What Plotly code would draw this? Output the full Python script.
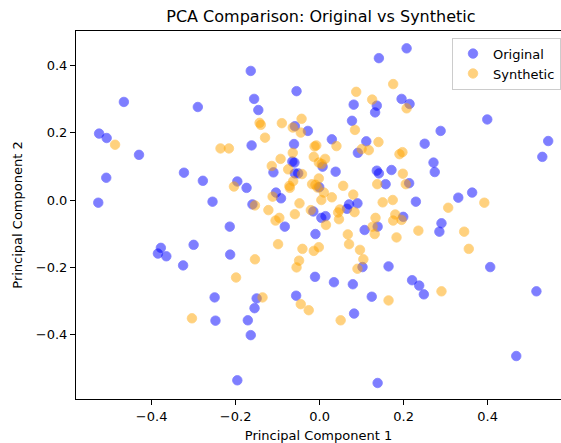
import plotly.graph_objects as go

orig_x = [0.141, 0.207, -0.164, -0.466, -0.290, -0.055, -0.156, -0.146, 0.081, 0.136,
          0.132, 0.195, 0.214, 0.399, 0.077, -0.059, -0.028, -0.525, -0.507, 0.288,
          0.250, 0.544, -0.162, -0.061, 0.029, 0.111, -0.430, 0.091, -0.065, -0.060,
          0.007, -0.110, -0.059, -0.051, 0.038, 0.136, 0.141, 0.171, 0.530, 0.271,
          0.274, -0.508, -0.323, -0.278, -0.196, -0.174, -0.001, 0.157, 0.213, -0.104,
          -0.092, -0.527, -0.255, -0.160, 0.070, 0.090, 0.065, -0.015, 0.004, 0.014,
          0.229, 0.330, 0.363, 0.199, 0.290, 0.285, -0.214, -0.083, 0.138, 0.107,
          -0.010, -0.300, -0.378, -0.385, -0.365, -0.213, -0.325, 0.102, 0.164, 0.406,
          -0.011, 0.034, 0.079, 0.220, 0.237, 0.248, 0.516, -0.250, -0.248, -0.150,
          -0.155, -0.056, 0.124, 0.082, -0.171, -0.164, -0.196, 0.138, 0.468]
orig_y = [0.421, 0.450, 0.383, 0.291, 0.276, 0.323, 0.300, 0.267, 0.283, 0.280,
          0.260, 0.300, 0.285, 0.239, 0.235, 0.219, 0.205, 0.197, 0.184, 0.205,
          0.167, 0.175, 0.162, 0.166, 0.180, 0.174, 0.134, 0.140, 0.114, 0.111,
          0.099, 0.082, 0.079, 0.079, 0.084, 0.087, 0.079, 0.089, 0.128, 0.111,
          0.083, 0.066, 0.081, 0.057, 0.055, 0.036, 0.038, 0.047, 0.050, 0.022,
          0.005, -0.008, -0.005, -0.013, -0.013, -0.010, -0.026, -0.034, -0.053, -0.048,
          -0.005, 0.007, 0.022, -0.050, -0.069, -0.094, -0.079, -0.079, -0.079, -0.089,
          -0.101, -0.133, -0.142, -0.159, -0.167, -0.162, -0.194, -0.199, -0.197, -0.199,
          -0.228, -0.244, -0.250, -0.238, -0.254, -0.280, -0.271, -0.289, -0.358, -0.292,
          -0.321, -0.284, -0.287, -0.337, -0.357, -0.401, -0.535, -0.543, -0.463]

syn_x = [0.175, 0.087, 0.125, 0.207, -0.043, -0.143, -0.140, -0.090, -0.064, -0.045,
         0.084, -0.130, 0.040, -0.012, -0.008, 0.140, -0.487, -0.236, -0.216, 0.190,
         0.197, -0.064, -0.093, -0.014, 0.013, -0.002, 0.005, 0.100, 0.117, -0.114,
         -0.075, -0.042, -0.002, -0.063, -0.072, -0.071, -0.018, -0.010, -0.005, 0.010,
         0.004, 0.029, 0.056, 0.080, 0.048, 0.044, 0.046, 0.083, 0.137, 0.150,
         0.174, 0.198, 0.205, 0.180, 0.175, 0.195, 0.133, 0.126, 0.131, 0.183,
         -0.204, -0.154, -0.122, -0.112, -0.048, -0.059, -0.021, -0.096, -0.105, 0.015,
         0.067, 0.070, -0.099, -0.041, -0.014, -0.002, 0.096, 0.104, -0.154, -0.049,
         -0.055, 0.090, -0.199, -0.136, -0.045, -0.026, 0.164, 0.050, -0.304, 0.290,
         0.306, 0.392, 0.235, 0.344, 0.355]
syn_y = [0.344, 0.321, 0.298, 0.272, 0.241, 0.229, 0.223, 0.228, 0.215, 0.200,
         0.208, 0.185, 0.160, 0.159, 0.162, 0.172, 0.164, 0.153, 0.153, 0.136,
         0.142, 0.140, 0.122, 0.128, 0.122, 0.111, 0.107, 0.151, 0.148, 0.101,
         0.091, 0.077, 0.064, 0.056, 0.042, 0.036, 0.047, 0.045, 0.037, 0.022,
         0.000, 0.008, 0.042, 0.016, -0.028, -0.037, -0.057, -0.036, 0.047, -0.007,
         0.000, 0.078, 0.047, -0.043, -0.061, -0.059, -0.053, -0.079, -0.101, -0.111,
         0.040, -0.016, -0.030, 0.010, -0.010, -0.042, -0.030, -0.053, -0.061, -0.074,
         -0.102, -0.131, -0.131, -0.145, -0.151, -0.140, -0.148, -0.176, -0.176, -0.180,
         -0.200, -0.204, -0.230, -0.289, -0.309, -0.327, -0.298, -0.357, -0.351, -0.271,
         -0.023, -0.008, -0.091, -0.094, -0.145]

tick_vals = [-0.4, -0.2, 0.0, 0.2, 0.4]

FONT = "DejaVu Sans"

fig = go.Figure()
fig.add_trace(go.Scatter(
    x=orig_x, y=orig_y, mode="markers", name="Original",
    marker=dict(color="blue", size=9.5, opacity=0.5,
                line=dict(width=0.8, color="blue")),
))
fig.add_trace(go.Scatter(
    x=syn_x, y=syn_y, mode="markers", name="Synthetic",
    marker=dict(color="orange", size=9.5, opacity=0.5,
                line=dict(width=0.8, color="orange")),
))

axis_common = dict(
    showgrid=False, zeroline=False, showline=True, linecolor="black", linewidth=1,
    ticks="outside", ticklen=5, tickwidth=1, tickcolor="black",
    tickfont=dict(family=FONT, size=13, color="black"),
    tickvals=tick_vals, tickformat=".1f",
)

fig.update_layout(
    width=561, height=443,
    margin=dict(l=76, r=0, t=31, b=44),
    paper_bgcolor="white", plot_bgcolor="white",
    font=dict(family=FONT, size=13, color="black"),
    title=dict(text="PCA Comparison: Original vs Synthetic", x=0.572, xanchor="center",
               y=1 - 16 / 443, yanchor="middle",
               font=dict(family=FONT, size=16, color="black")),
    xaxis=dict(axis_common, range=[-0.580, 0.5745], mirror=True,
               title=dict(text="Principal Component 1", standoff=8,
                          font=dict(family=FONT, size=13, color="black"))),
    yaxis=dict(axis_common, range=[-0.5905, 0.5015], mirror=False,
               title=dict(text="Principal Component 2", standoff=10,
                          font=dict(family=FONT, size=13, color="black"))),
    showlegend=True,
    legend=dict(x=1, xanchor="right", y=0.982, yanchor="top",
                bgcolor="rgba(255,255,255,0.8)", bordercolor="#cccccc", borderwidth=1,
                font=dict(family=FONT, size=13, color="black"),
                itemsizing="trace", tracegroupgap=0),
)

fig.write_html("out.html")
